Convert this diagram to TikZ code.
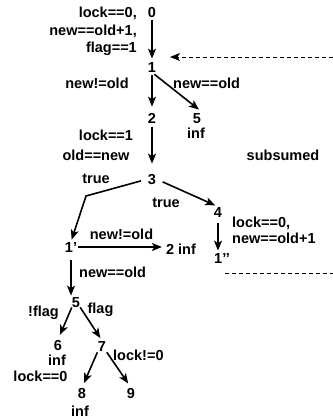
\documentclass[tikz,border=0pt]{standalone}
\usepackage{fontspec}
\setmainfont{Liberation Sans}
\usetikzlibrary{arrows.meta,calc}
\tikzset{
  st/.style={inner sep=0pt, text height=10.4bp, text depth=0pt, font=\fontsize{14.5bp}{17bp}\selectfont\bfseries},
  lbl/.style={inner sep=0pt, font=\fontsize{14.5bp}{17bp}\selectfont\bfseries},
  arr/.style={line width=1.6bp, -{Stealth[length=10bp,width=8bp,inset=2.5bp]}},
  dsh/.style={line width=1bp, dash pattern=on 4bp off 3bp},
}
\begin{document}
\begin{tikzpicture}[x=1bp,y=-1bp]
\useasboundingbox (0,0) rectangle (333,420);
% states
\node[st] (n0) at (152,12) {0};
\node[st] (n1) at (152,67) {1};
\node[st] (n2) at (152,118) {2};
\node[st] (n5) at (197,118) {5};
\node[st] (n3) at (152,179) {3};
\node[st] (n4) at (218,212) {4};
\node[st] (n1pp) at (222,258) {1’’};
\node[st] (n1p) at (71,247) {1’};
\node[st] (n2b) at (181,249) {2 inf};
\node[st] (n5b) at (76,302) {5};
\node[st] (n6) at (58,345) {6};
\node[st] (n7) at (102,346) {7};
\node[st] (n8) at (82,393) {8};
\node[st] (n9) at (131,393) {9};
% labels
\node[lbl, anchor=base east] (l1) at (137,17) {lock==0,};
\node[lbl, anchor=base east] (l2) at (137,35) {new==old+1,};
\node[lbl, anchor=base east] (l3) at (137,52) {flag==1};
\node[lbl, anchor=base] (l4) at (97,88) {new!=old};
\node[lbl, anchor=base west] (l5) at (173,88) {new==old};
\node[lbl, anchor=base] (l6) at (196,138) {inf};
\node[lbl, anchor=base] (l7) at (106,140) {lock==1};
\node[lbl, anchor=base] (l8) at (96,160) {old==new};
\node[lbl, anchor=base] (l9) at (283,160) {subsumed};
\node[lbl, anchor=base] (l10) at (96,183) {true};
\node[lbl, anchor=base] (l11) at (166,207) {true};
\node[lbl, anchor=base west] (l12) at (232,227) {lock==0,};
\node[lbl, anchor=base west] (l13) at (232,243) {new==old+1};
\node[lbl, anchor=base] (l14) at (121.5,239) {new!=old};
\node[lbl, anchor=base west] (l15) at (79,277) {new==old};
\node[lbl, anchor=base] (l16) at (43.5,316) {!flag};
\node[lbl, anchor=base] (l17) at (100.5,313) {flag};
\node[lbl, anchor=base] (l18) at (57,365) {inf};
\node[lbl, anchor=base west] (l19) at (113,360) {lock!=0};
\node[lbl, anchor=base] (l20) at (40.5,381) {lock==0};
\node[lbl, anchor=base] (l21) at (80,416) {inf};
% connectors
\draw[arr, shorten <=3bp, shorten >=3bp] (n0) -- (n1);
\draw[arr, shorten <=3bp, shorten >=6bp] (n1) -- (n2);
\draw[arr, shorten <=3bp] (n1.south) -- ([shift={(2,-3)}]n5.north);
\draw[arr, shorten <=4bp, shorten >=10bp] (n2) -- (n3);
\coordinate (b3) at (86,196);
\draw[arr, shorten <=7bp, shorten >=2bp] (n3.west) -- (b3) -- (n1p.north);
\draw[arr, shorten <=7bp, shorten >=3bp] (n3.east) -- (n4.north);
\draw[arr, shorten <=6bp, shorten >=2bp] (n4.south) -- (n4.south |- n1pp.north);
\draw[arr, shorten <=1bp, shorten >=4bp] (n1p.east) -- (n1p.east -| n2b.west);
\draw[arr, shorten <=8bp, shorten >=1bp] (n1p.south) -- (n1p.south |- n5b.north);
\draw[arr, shorten >=5bp] (n5b.south west) -- (n6.north);
\draw[arr, shorten >=3bp] (n5b.south east) -- (n7.north);
\draw[arr, shorten <=1bp, shorten >=5bp] (n7.south west) -- (n8.north);
\draw[arr, shorten <=1bp, shorten >=5bp] (n7.south east) -- (n9.north);
% dashed
\coordinate (dr) at (333,57);
\coordinate (dt) at (170,57);
\draw[dsh, -{Stealth[length=10bp,width=8bp,inset=2.5bp]}] (dr) -- (dt);
\coordinate (e1) at (225,273);
\coordinate (e2) at (333,273);
\draw[dsh] (e1) -- (e2);
\end{tikzpicture}
\end{document}
